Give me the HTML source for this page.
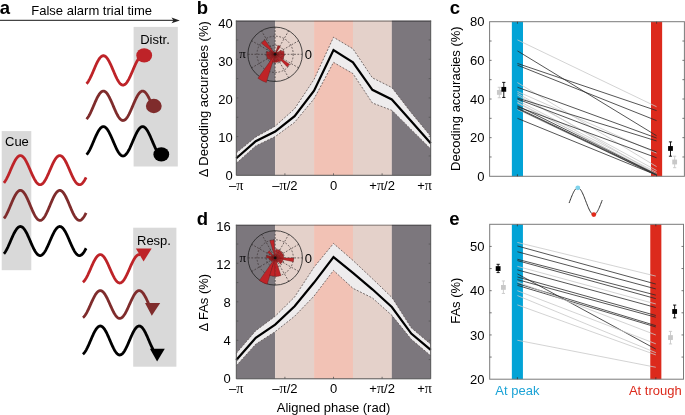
<!DOCTYPE html>
<html><head><meta charset="utf-8"><style>html,body{margin:0;padding:0;background:#fff;width:685px;height:415px;overflow:hidden}svg{display:block;will-change:transform}</style></head>
<body><svg width="685" height="415" viewBox="0 0 685 415">
<rect width="685" height="415" fill="#fff"/>
<rect x="1.7" y="131.1" width="29.6" height="139.1" fill="#d9d9d9"/>
<rect x="133.6" y="26.9" width="44.2" height="139.6" fill="#d9d9d9"/>
<rect x="133.2" y="227.7" width="43.2" height="139" fill="#d9d9d9"/>
<line x1="0" y1="20.4" x2="174" y2="20.4" stroke="#444" stroke-width="1.1"/>
<path d="M179.8,20.4 L171.5,17.6 L173.5,20.4 L171.5,23.2 Z" fill="#222"/>
<text x="31.3" y="14.6" font-size="13" text-anchor="start" font-weight="normal" fill="#000" font-family='"Liberation Sans", sans-serif' >False alarm trial time</text>
<text x="-0.2" y="14" font-size="18.5" text-anchor="start" font-weight="bold" fill="#000" font-family='"Liberation Sans", sans-serif' >a</text>
<text x="5" y="146" font-size="13" text-anchor="start" font-weight="normal" fill="#000" font-family='"Liberation Sans", sans-serif' >Cue</text>
<text x="140.2" y="44" font-size="13" text-anchor="start" font-weight="normal" fill="#000" font-family='"Liberation Sans", sans-serif' >Distr.</text>
<text x="137" y="244.7" font-size="13" text-anchor="start" font-weight="normal" fill="#000" font-family='"Liberation Sans", sans-serif' >Resp.</text>
<path d="M3.9,182.85 L4.4,182.24 L4.9,181.56 L5.39,180.81 L5.89,179.99 L6.39,179.11 L6.89,178.17 L7.39,177.18 L7.89,176.15 L8.38,175.08 L8.88,173.98 L9.38,172.85 L9.88,171.71 L10.38,170.55 L10.87,169.4 L11.37,168.25 L11.87,167.11 L12.37,165.99 L12.87,164.89 L13.37,163.83 L13.86,162.81 L14.36,161.84 L14.86,160.92 L15.36,160.06 L15.86,159.26 L16.35,158.52 L16.85,157.87 L17.35,157.29 L17.85,156.79 L18.35,156.37 L18.85,156.04 L19.34,155.81 L19.84,155.66 L20.34,155.6 L20.84,155.64 L21.34,155.76 L21.83,155.98 L22.33,156.29 L22.83,156.68 L23.33,157.16 L23.83,157.72 L24.33,158.36 L24.82,159.07 L25.32,159.86 L25.82,160.7 L26.32,161.61 L26.82,162.58 L27.31,163.58 L27.81,164.64 L28.31,165.72 L28.81,166.84 L29.31,167.97 L29.81,169.12 L30.3,170.27 L30.8,171.43 L31.3,172.57 L31.8,173.71 L32.3,174.81 L32.79,175.89 L33.29,176.94 L33.79,177.94 L34.29,178.89 L34.79,179.78 L35.29,180.62 L35.78,181.39 L36.28,182.09 L36.78,182.71 L37.28,183.25 L37.78,183.71 L38.27,184.09 L38.77,184.38 L39.27,184.57 L39.77,184.68 L40.27,184.69 L40.77,184.62 L41.26,184.45 L41.76,184.19 L42.26,183.85 L42.76,183.41 L43.26,182.9 L43.75,182.3 L44.25,181.62 L44.75,180.88 L45.25,180.06 L45.75,179.19 L46.25,178.25 L46.74,177.27 L47.24,176.24 L47.74,175.17 L48.24,174.07 L48.74,172.95 L49.23,171.81 L49.73,170.65 L50.23,169.5 L50.73,168.35 L51.23,167.21 L51.73,166.09 L52.22,164.99 L52.72,163.93 L53.22,162.9 L53.72,161.92 L54.22,161 L54.71,160.13 L55.21,159.32 L55.71,158.59 L56.21,157.92 L56.71,157.33 L57.21,156.83 L57.7,156.41 L58.2,156.07 L58.7,155.82 L59.2,155.67 L59.7,155.6 L60.19,155.63 L60.69,155.75 L61.19,155.96 L61.69,156.26 L62.19,156.64 L62.69,157.11 L63.18,157.67 L63.68,158.3 L64.18,159.01 L64.68,159.79 L65.18,160.63 L65.67,161.53 L66.17,162.49 L66.67,163.49 L67.17,164.54 L67.67,165.63 L68.17,166.74 L68.66,167.87 L69.16,169.02 L69.66,170.17 L70.16,171.33 L70.66,172.48 L71.15,173.61 L71.65,174.72 L72.15,175.8 L72.65,176.85 L73.15,177.85 L73.65,178.81 L74.14,179.71 L74.64,180.55 L75.14,181.32 L75.64,182.03 L76.14,182.66 L76.63,183.21 L77.13,183.68 L77.63,184.06 L78.13,184.35 L78.63,184.56 L79.13,184.67 L79.62,184.7 L80.12,184.63 L80.62,184.47 L81.12,184.22 L81.62,183.88 L82.11,183.45 L82.61,182.94 L83.11,182.35 L83.61,181.69 L84.11,180.95 L84.61,180.14 L85.1,179.27 L85.6,178.34 L86.1,177.36" fill="none" stroke="#be2328" stroke-width="2.8" stroke-linejoin="round" stroke-linecap="butt"/>
<path d="M3.9,218.49 L4.4,217.87 L4.9,217.16 L5.39,216.39 L5.89,215.54 L6.39,214.64 L6.89,213.67 L7.39,212.65 L7.89,211.58 L8.38,210.48 L8.88,209.34 L9.38,208.18 L9.88,207 L10.38,205.82 L10.87,204.62 L11.37,203.44 L11.87,202.26 L12.37,201.11 L12.87,199.98 L13.37,198.89 L13.86,197.84 L14.36,196.83 L14.86,195.88 L15.36,194.99 L15.86,194.17 L16.35,193.41 L16.85,192.74 L17.35,192.14 L17.85,191.62 L18.35,191.2 L18.85,190.86 L19.34,190.61 L19.84,190.46 L20.34,190.4 L20.84,190.44 L21.34,190.57 L21.83,190.79 L22.33,191.11 L22.83,191.51 L23.33,192.01 L23.83,192.59 L24.33,193.24 L24.82,193.98 L25.32,194.79 L25.82,195.66 L26.32,196.6 L26.82,197.59 L27.31,198.63 L27.81,199.72 L28.31,200.84 L28.81,201.98 L29.31,203.15 L29.81,204.34 L30.3,205.53 L30.8,206.72 L31.3,207.9 L31.8,209.07 L32.3,210.21 L32.79,211.32 L33.29,212.4 L33.79,213.43 L34.29,214.41 L34.79,215.33 L35.29,216.19 L35.78,216.98 L36.28,217.7 L36.78,218.35 L37.28,218.91 L37.78,219.38 L38.27,219.77 L38.77,220.07 L39.27,220.27 L39.77,220.38 L40.27,220.39 L40.77,220.32 L41.26,220.14 L41.76,219.88 L42.26,219.52 L42.76,219.07 L43.26,218.54 L43.75,217.92 L44.25,217.23 L44.75,216.46 L45.25,215.62 L45.75,214.72 L46.25,213.76 L46.74,212.74 L47.24,211.68 L47.74,210.58 L48.24,209.44 L48.74,208.29 L49.23,207.11 L49.73,205.92 L50.23,204.73 L50.73,203.54 L51.23,202.37 L51.73,201.21 L52.22,200.08 L52.72,198.98 L53.22,197.93 L53.72,196.92 L54.22,195.96 L54.71,195.07 L55.21,194.24 L55.71,193.48 L56.21,192.79 L56.71,192.19 L57.21,191.67 L57.7,191.23 L58.2,190.88 L58.7,190.63 L59.2,190.47 L59.7,190.4 L60.19,190.43 L60.69,190.55 L61.19,190.77 L61.69,191.08 L62.19,191.47 L62.69,191.96 L63.18,192.53 L63.68,193.18 L64.18,193.91 L64.68,194.71 L65.18,195.58 L65.67,196.51 L66.17,197.5 L66.67,198.54 L67.17,199.62 L67.67,200.74 L68.17,201.88 L68.66,203.05 L69.16,204.23 L69.66,205.42 L70.16,206.61 L70.66,207.8 L71.15,208.96 L71.65,210.11 L72.15,211.23 L72.65,212.3 L73.15,213.34 L73.65,214.32 L74.14,215.25 L74.64,216.12 L75.14,216.92 L75.64,217.64 L76.14,218.29 L76.63,218.86 L77.13,219.34 L77.63,219.74 L78.13,220.04 L78.63,220.25 L79.13,220.37 L79.62,220.4 L80.12,220.33 L80.62,220.16 L81.12,219.9 L81.62,219.55 L82.11,219.11 L82.61,218.59 L83.11,217.98 L83.61,217.29 L84.11,216.53 L84.61,215.7 L85.1,214.8 L85.6,213.84 L86.1,212.83" fill="none" stroke="#7f2c2c" stroke-width="2.8" stroke-linejoin="round" stroke-linecap="butt"/>
<path d="M3.9,253.75 L4.4,253.14 L4.9,252.46 L5.39,251.71 L5.89,250.89 L6.39,250.01 L6.89,249.07 L7.39,248.08 L7.89,247.05 L8.38,245.98 L8.88,244.88 L9.38,243.75 L9.88,242.61 L10.38,241.45 L10.87,240.3 L11.37,239.15 L11.87,238.01 L12.37,236.89 L12.87,235.79 L13.37,234.73 L13.86,233.71 L14.36,232.74 L14.86,231.82 L15.36,230.96 L15.86,230.16 L16.35,229.42 L16.85,228.77 L17.35,228.19 L17.85,227.69 L18.35,227.27 L18.85,226.94 L19.34,226.71 L19.84,226.56 L20.34,226.5 L20.84,226.54 L21.34,226.66 L21.83,226.88 L22.33,227.19 L22.83,227.58 L23.33,228.06 L23.83,228.62 L24.33,229.26 L24.82,229.97 L25.32,230.76 L25.82,231.6 L26.32,232.51 L26.82,233.48 L27.31,234.48 L27.81,235.54 L28.31,236.62 L28.81,237.74 L29.31,238.87 L29.81,240.02 L30.3,241.17 L30.8,242.33 L31.3,243.47 L31.8,244.61 L32.3,245.71 L32.79,246.79 L33.29,247.84 L33.79,248.84 L34.29,249.79 L34.79,250.68 L35.29,251.52 L35.78,252.29 L36.28,252.99 L36.78,253.61 L37.28,254.15 L37.78,254.61 L38.27,254.99 L38.77,255.28 L39.27,255.47 L39.77,255.58 L40.27,255.59 L40.77,255.52 L41.26,255.35 L41.76,255.09 L42.26,254.75 L42.76,254.31 L43.26,253.8 L43.75,253.2 L44.25,252.52 L44.75,251.78 L45.25,250.96 L45.75,250.09 L46.25,249.15 L46.74,248.17 L47.24,247.14 L47.74,246.07 L48.24,244.97 L48.74,243.85 L49.23,242.71 L49.73,241.55 L50.23,240.4 L50.73,239.25 L51.23,238.11 L51.73,236.99 L52.22,235.89 L52.72,234.83 L53.22,233.8 L53.72,232.82 L54.22,231.9 L54.71,231.03 L55.21,230.22 L55.71,229.49 L56.21,228.82 L56.71,228.23 L57.21,227.73 L57.7,227.31 L58.2,226.97 L58.7,226.72 L59.2,226.57 L59.7,226.5 L60.19,226.53 L60.69,226.65 L61.19,226.86 L61.69,227.16 L62.19,227.54 L62.69,228.01 L63.18,228.57 L63.68,229.2 L64.18,229.91 L64.68,230.69 L65.18,231.53 L65.67,232.43 L66.17,233.39 L66.67,234.39 L67.17,235.44 L67.67,236.53 L68.17,237.64 L68.66,238.77 L69.16,239.92 L69.66,241.07 L70.16,242.23 L70.66,243.38 L71.15,244.51 L71.65,245.62 L72.15,246.7 L72.65,247.75 L73.15,248.75 L73.65,249.71 L74.14,250.61 L74.64,251.45 L75.14,252.22 L75.64,252.93 L76.14,253.56 L76.63,254.11 L77.13,254.58 L77.63,254.96 L78.13,255.25 L78.63,255.46 L79.13,255.57 L79.62,255.6 L80.12,255.53 L80.62,255.37 L81.12,255.12 L81.62,254.78 L82.11,254.35 L82.61,253.84 L83.11,253.25 L83.61,252.59 L84.11,251.85 L84.61,251.04 L85.1,250.17 L85.6,249.24 L86.1,248.26" fill="none" stroke="#000" stroke-width="2.8" stroke-linejoin="round" stroke-linecap="butt"/>
<path d="M86.5,83.74 L87,83.21 L87.49,82.6 L87.99,81.91 L88.49,81.15 L88.98,80.31 L89.48,79.42 L89.98,78.47 L90.47,77.47 L90.97,76.42 L91.46,75.33 L91.96,74.22 L92.46,73.08 L92.95,71.92 L93.45,70.75 L93.95,69.58 L94.44,68.42 L94.94,67.27 L95.44,66.14 L95.93,65.03 L96.43,63.96 L96.93,62.93 L97.42,61.95 L97.92,61.02 L98.42,60.15 L98.91,59.34 L99.41,58.61 L99.9,57.95 L100.4,57.37 L100.9,56.87 L101.39,56.45 L101.89,56.13 L102.39,55.89 L102.88,55.75 L103.38,55.7 L103.88,55.74 L104.37,55.88 L104.87,56.11 L105.37,56.42 L105.86,56.83 L106.36,57.32 L106.85,57.9 L107.35,58.55 L107.85,59.28 L108.34,60.08 L108.84,60.94 L109.34,61.87 L109.83,62.85 L110.33,63.87 L110.83,64.94 L111.32,66.04 L111.82,67.17 L112.32,68.32 L112.81,69.49 L113.31,70.66 L113.81,71.82 L114.3,72.98 L114.8,74.12 L115.29,75.24 L115.79,76.33 L116.29,77.38 L116.78,78.39 L117.28,79.34 L117.78,80.24 L118.27,81.08 L118.77,81.85 L119.27,82.55 L119.76,83.17 L120.26,83.7 L120.76,84.16 L121.25,84.53 L121.75,84.81 L122.25,84.99 L122.74,85.09 L123.24,85.09 L123.73,85 L124.23,84.81 L124.73,84.54 L125.22,84.18 L125.72,83.72 L126.22,83.19 L126.71,82.57 L127.21,81.88 L127.71,81.11 L128.2,80.28 L128.7,79.38 L129.2,78.43 L129.69,77.42 L130.19,76.38 L130.68,75.29 L131.18,74.17 L131.68,73.03 L132.17,71.87 L132.67,70.7 L133.17,69.54 L133.66,68.37 L134.16,67.22 L134.66,66.09 L135.15,64.99 L135.65,63.92 L136.15,62.89 L136.64,61.91 L137.14,60.98 L137.64,60.11 L138.13,59.31 L138.63,58.58 L139.12,57.92 L139.62,57.34 L140.12,56.85 L140.61,56.44 L141.11,56.12 L141.61,55.89 L142.1,55.75 L142.6,55.7" fill="none" stroke="#be2328" stroke-width="2.8" stroke-linejoin="round" stroke-linecap="butt"/>
<ellipse cx="144.2" cy="55.4" rx="7.9" ry="7.2" fill="#be2328"/>
<path d="M86.5,119.14 L87,118.61 L87.5,117.99 L88,117.3 L88.5,116.53 L89,115.69 L89.5,114.79 L89.99,113.83 L90.49,112.82 L90.99,111.77 L91.49,110.67 L91.99,109.55 L92.49,108.4 L92.99,107.23 L93.49,106.06 L93.99,104.88 L94.49,103.72 L94.99,102.56 L95.49,101.42 L95.99,100.32 L96.48,99.24 L96.98,98.21 L97.48,97.23 L97.98,96.3 L98.48,95.44 L98.98,94.64 L99.48,93.91 L99.98,93.25 L100.48,92.68 L100.98,92.19 L101.48,91.79 L101.98,91.48 L102.48,91.26 L102.97,91.13 L103.47,91.1 L103.97,91.16 L104.47,91.32 L104.97,91.56 L105.47,91.9 L105.97,92.33 L106.47,92.84 L106.97,93.44 L107.47,94.12 L107.97,94.87 L108.47,95.69 L108.97,96.57 L109.47,97.52 L109.96,98.51 L110.46,99.56 L110.96,100.64 L111.46,101.76 L111.96,102.9 L112.46,104.06 L112.96,105.23 L113.46,106.41 L113.96,107.58 L114.46,108.74 L114.96,109.88 L115.46,111 L115.96,112.08 L116.45,113.13 L116.95,114.12 L117.45,115.06 L117.95,115.95 L118.45,116.76 L118.95,117.51 L119.45,118.18 L119.95,118.78 L120.45,119.29 L120.95,119.71 L121.45,120.05 L121.95,120.29 L122.45,120.44 L122.94,120.5 L123.44,120.46 L123.94,120.33 L124.44,120.11 L124.94,119.79 L125.44,119.39 L125.94,118.9 L126.44,118.32 L126.94,117.67 L127.44,116.94 L127.94,116.13 L128.44,115.26 L128.94,114.33 L129.43,113.35 L129.93,112.32 L130.43,111.24 L130.93,110.13 L131.43,109 L131.93,107.84 L132.43,106.67 L132.93,105.49 L133.43,104.32 L133.93,103.16 L134.43,102.01 L134.93,100.89 L135.43,99.79 L135.93,98.74 L136.42,97.73 L136.92,96.78 L137.42,95.88 L137.92,95.04 L138.42,94.28 L138.92,93.58 L139.42,92.97 L139.92,92.44 L140.42,91.99 L140.92,91.63 L141.42,91.36 L141.92,91.19 L142.42,91.11 L142.91,91.12 L143.41,91.22 L143.91,91.42 L144.41,91.72 L144.91,92.1 L145.41,92.57 L145.91,93.12 L146.41,93.76 L146.91,94.47 L147.41,95.25 L147.91,96.1 L148.41,97.02 L148.91,97.99 L149.4,99.01 L149.9,100.07 L150.4,101.17 L150.9,102.3 L151.4,103.46 L151.9,104.62 L152.4,105.8" fill="none" stroke="#7f2c2c" stroke-width="2.8" stroke-linejoin="round" stroke-linecap="butt"/>
<ellipse cx="153.8" cy="106" rx="7.9" ry="7.2" fill="#7f2c2c"/>
<path d="M86.5,154.64 L87,154.11 L87.49,153.5 L87.99,152.81 L88.49,152.04 L88.98,151.21 L89.48,150.32 L89.98,149.37 L90.47,148.36 L90.97,147.32 L91.47,146.23 L91.96,145.11 L92.46,143.97 L92.96,142.81 L93.45,141.65 L93.95,140.48 L94.45,139.31 L94.94,138.16 L95.44,137.03 L95.94,135.92 L96.43,134.85 L96.93,133.82 L97.43,132.84 L97.92,131.91 L98.42,131.04 L98.92,130.24 L99.41,129.5 L99.91,128.84 L100.41,128.26 L100.9,127.76 L101.4,127.35 L101.9,127.03 L102.39,126.79 L102.89,126.65 L103.39,126.6 L103.88,126.64 L104.38,126.78 L104.88,127.01 L105.37,127.33 L105.87,127.74 L106.37,128.23 L106.86,128.81 L107.36,129.46 L107.86,130.19 L108.35,130.99 L108.85,131.86 L109.35,132.79 L109.84,133.76 L110.34,134.79 L110.84,135.86 L111.33,136.96 L111.83,138.1 L112.33,139.25 L112.82,140.41 L113.32,141.58 L113.82,142.75 L114.31,143.91 L114.81,145.05 L115.31,146.17 L115.8,147.25 L116.3,148.3 L116.8,149.31 L117.29,150.26 L117.79,151.16 L118.29,152 L118.78,152.77 L119.28,153.46 L119.78,154.08 L120.27,154.62 L120.77,155.07 L121.27,155.44 L121.76,155.71 L122.26,155.9 L122.76,155.99 L123.25,155.99 L123.75,155.89 L124.24,155.71 L124.74,155.43 L125.24,155.06 L125.73,154.61 L126.23,154.07 L126.73,153.45 L127.22,152.76 L127.72,151.99 L128.22,151.15 L128.71,150.25 L129.21,149.3 L129.71,148.29 L130.2,147.24 L130.7,146.15 L131.2,145.03 L131.69,143.89 L132.19,142.73 L132.69,141.56 L133.18,140.39 L133.68,139.23 L134.18,138.08 L134.67,136.95 L135.17,135.85 L135.67,134.78 L136.16,133.75 L136.66,132.77 L137.16,131.85 L137.65,130.98 L138.15,130.18 L138.65,129.45 L139.14,128.8 L139.64,128.22 L140.14,127.73 L140.63,127.32 L141.13,127.01 L141.63,126.78 L142.12,126.64 L142.62,126.6 L143.12,126.65 L143.61,126.79 L144.11,127.03 L144.61,127.35 L145.1,127.77 L145.6,128.27 L146.1,128.85 L146.59,129.51 L147.09,130.25 L147.59,131.05 L148.08,131.92 L148.58,132.85 L149.08,133.84 L149.57,134.87 L150.07,135.94 L150.57,137.04 L151.06,138.18 L151.56,139.33 L152.06,140.49 L152.55,141.66 L153.05,142.83 L153.55,143.99 L154.04,145.13 L154.54,146.24 L155.04,147.33 L155.53,148.38 L156.03,149.38 L156.53,150.33 L157.02,151.22 L157.52,152.05 L158.02,152.82 L158.51,153.51 L159.01,154.12 L159.51,154.65 L160,155.1 L160.5,155.46" fill="none" stroke="#000" stroke-width="2.8" stroke-linejoin="round" stroke-linecap="butt"/>
<ellipse cx="161.3" cy="154.4" rx="7.9" ry="7.2" fill="#000"/>
<path d="M82.9,282.23 L83.4,281.82 L83.89,281.32 L84.39,280.74 L84.89,280.09 L85.38,279.36 L85.88,278.57 L86.38,277.71 L86.87,276.8 L87.37,275.83 L87.87,274.82 L88.36,273.77 L88.86,272.69 L89.36,271.58 L89.85,270.46 L90.35,269.32 L90.84,268.18 L91.34,267.05 L91.84,265.92 L92.33,264.82 L92.83,263.74 L93.33,262.69 L93.82,261.69 L94.32,260.72 L94.82,259.81 L95.31,258.96 L95.81,258.17 L96.31,257.45 L96.8,256.81 L97.3,256.23 L97.8,255.75 L98.29,255.34 L98.79,255.02 L99.29,254.79 L99.78,254.65 L100.28,254.6 L100.78,254.64 L101.27,254.77 L101.77,255 L102.27,255.31 L102.76,255.71 L103.26,256.19 L103.76,256.75 L104.25,257.4 L104.75,258.11 L105.24,258.89 L105.74,259.74 L106.24,260.65 L106.73,261.6 L107.23,262.61 L107.73,263.65 L108.22,264.73 L108.72,265.83 L109.22,266.95 L109.71,268.09 L110.21,269.23 L110.71,270.36 L111.2,271.49 L111.7,272.6 L112.2,273.68 L112.69,274.73 L113.19,275.75 L113.69,276.72 L114.18,277.64 L114.68,278.5 L115.18,279.3 L115.67,280.03 L116.17,280.69 L116.67,281.27 L117.16,281.78 L117.66,282.2 L118.16,282.53 L118.65,282.78 L119.15,282.93 L119.64,283 L120.14,282.97 L120.64,282.85 L121.13,282.65 L121.63,282.35 L122.13,281.97 L122.62,281.5 L123.12,280.95 L123.62,280.32 L124.11,279.62 L124.61,278.84 L125.11,278.01 L125.6,277.11 L126.1,276.16 L126.6,275.17 L127.09,274.13 L127.59,273.06 L128.09,271.96 L128.58,270.84 L129.08,269.71 L129.58,268.57 L130.07,267.43 L130.57,266.3 L131.07,265.19 L131.56,264.1 L132.06,263.04 L132.56,262.02 L133.05,261.05 L133.55,260.12 L134.04,259.24 L134.54,258.43 L135.04,257.69 L135.53,257.02 L136.03,256.42 L136.53,255.9 L137.02,255.47 L137.52,255.12 L138.02,254.86 L138.51,254.69 L139.01,254.61 L139.51,254.62 L140,254.72 L140.5,254.91" fill="none" stroke="#be2328" stroke-width="2.8" stroke-linejoin="round" stroke-linecap="butt"/>
<path d="M135.9,248.5 L151.7,248.5 L143.6,261.4 Z" fill="#be2328"/>
<path d="M82.9,317.64 L83.4,317.24 L83.89,316.75 L84.39,316.19 L84.89,315.55 L85.39,314.83 L85.88,314.06 L86.38,313.22 L86.88,312.32 L87.37,311.37 L87.87,310.38 L88.37,309.35 L88.86,308.29 L89.36,307.21 L89.86,306.11 L90.36,304.99 L90.85,303.88 L91.35,302.77 L91.85,301.67 L92.34,300.58 L92.84,299.53 L93.34,298.5 L93.83,297.52 L94.33,296.57 L94.83,295.68 L95.33,294.85 L95.82,294.08 L96.32,293.38 L96.82,292.74 L97.31,292.19 L97.81,291.71 L98.31,291.31 L98.8,291 L99.3,290.78 L99.8,290.65 L100.3,290.6 L100.79,290.64 L101.29,290.78 L101.79,291 L102.28,291.31 L102.78,291.7 L103.28,292.18 L103.77,292.73 L104.27,293.36 L104.77,294.07 L105.27,294.84 L105.76,295.67 L106.26,296.56 L106.76,297.5 L107.25,298.48 L107.75,299.51 L108.25,300.56 L108.74,301.65 L109.24,302.75 L109.74,303.86 L110.24,304.97 L110.73,306.09 L111.23,307.19 L111.73,308.27 L112.22,309.33 L112.72,310.36 L113.22,311.35 L113.71,312.3 L114.21,313.2 L114.71,314.04 L115.21,314.82 L115.7,315.53 L116.2,316.18 L116.7,316.74 L117.19,317.23 L117.69,317.64 L118.19,317.96 L118.69,318.19 L119.18,318.34 L119.68,318.4 L120.18,318.37 L120.67,318.25 L121.17,318.04 L121.67,317.74 L122.16,317.36 L122.66,316.89 L123.16,316.35 L123.66,315.73 L124.15,315.03 L124.65,314.27 L125.15,313.45 L125.64,312.56 L126.14,311.63 L126.64,310.65 L127.13,309.63 L127.63,308.58 L128.13,307.5 L128.63,306.4 L129.12,305.29 L129.62,304.18 L130.12,303.06 L130.61,301.96 L131.11,300.87 L131.61,299.81 L132.1,298.77 L132.6,297.78 L133.1,296.82 L133.6,295.92 L134.09,295.07 L134.59,294.28 L135.09,293.56 L135.58,292.9 L136.08,292.33 L136.58,291.83 L137.07,291.41 L137.57,291.08 L138.07,290.83 L138.57,290.67 L139.06,290.6 L139.56,290.62 L140.06,290.73 L140.55,290.93 L141.05,291.22 L141.55,291.59 L142.04,292.04 L142.54,292.58 L143.04,293.19 L143.54,293.87 L144.03,294.62 L144.53,295.44 L145.03,296.32 L145.52,297.24 L146.02,298.22 L146.52,299.23 L147.01,300.28 L147.51,301.35 L148.01,302.45 L148.51,303.56 L149,304.68 L149.5,305.79" fill="none" stroke="#7f2c2c" stroke-width="2.8" stroke-linejoin="round" stroke-linecap="butt"/>
<path d="M145,302.9 L160.2,302.9 L151.8,315.7 Z" fill="#7f2c2c"/>
<path d="M82.9,354.21 L83.4,353.79 L83.89,353.28 L84.39,352.69 L84.89,352.02 L85.39,351.28 L85.88,350.47 L86.38,349.59 L86.88,348.65 L87.38,347.66 L87.87,346.63 L88.37,345.56 L88.87,344.45 L89.36,343.32 L89.86,342.17 L90.36,341.01 L90.86,339.84 L91.35,338.68 L91.85,337.53 L92.35,336.4 L92.85,335.3 L93.34,334.23 L93.84,333.2 L94.34,332.22 L94.83,331.29 L95.33,330.42 L95.83,329.62 L96.33,328.89 L96.82,328.23 L97.32,327.65 L97.82,327.15 L98.32,326.74 L98.81,326.42 L99.31,326.19 L99.81,326.05 L100.3,326 L100.8,326.05 L101.3,326.19 L101.8,326.42 L102.29,326.74 L102.79,327.16 L103.29,327.66 L103.78,328.24 L104.28,328.9 L104.78,329.63 L105.28,330.44 L105.77,331.31 L106.27,332.24 L106.77,333.22 L107.27,334.25 L107.76,335.32 L108.26,336.42 L108.76,337.55 L109.25,338.7 L109.75,339.86 L110.25,341.03 L110.75,342.19 L111.24,343.34 L111.74,344.47 L112.24,345.57 L112.74,346.65 L113.23,347.68 L113.73,348.67 L114.23,349.6 L114.72,350.48 L115.22,351.29 L115.72,352.03 L116.22,352.7 L116.71,353.29 L117.21,353.8 L117.71,354.22 L118.21,354.55 L118.7,354.79 L119.2,354.94 L119.7,355 L120.19,354.96 L120.69,354.83 L121.19,354.61 L121.69,354.3 L122.18,353.89 L122.68,353.41 L123.18,352.83 L123.68,352.18 L124.17,351.46 L124.67,350.66 L125.17,349.79 L125.66,348.87 L126.16,347.89 L126.66,346.87 L127.16,345.8 L127.65,344.7 L128.15,343.58 L128.65,342.43 L129.15,341.27 L129.64,340.11 L130.14,338.95 L130.64,337.79 L131.13,336.66 L131.63,335.55 L132.13,334.47 L132.63,333.43 L133.12,332.44 L133.62,331.5 L134.12,330.62 L134.62,329.8 L135.11,329.05 L135.61,328.37 L136.11,327.77 L136.6,327.26 L137.1,326.83 L137.6,326.48 L138.1,326.23 L138.59,326.07 L139.09,326 L139.59,326.03 L140.08,326.15 L140.58,326.36 L141.08,326.66 L141.58,327.06 L142.07,327.53 L142.57,328.1 L143.07,328.74 L143.57,329.46 L144.06,330.25 L144.56,331.1 L145.06,332.02 L145.55,332.99 L146.05,334.01 L146.55,335.07 L147.05,336.17 L147.54,337.29 L148.04,338.44 L148.54,339.6 L149.04,340.76 L149.53,341.92 L150.03,343.07 L150.53,344.21 L151.02,345.32 L151.52,346.41 L152.02,347.45 L152.52,348.45 L153.01,349.39 L153.51,350.28 L154.01,351.11 L154.51,351.87 L155,352.56 L155.5,353.16" fill="none" stroke="#000" stroke-width="2.8" stroke-linejoin="round" stroke-linecap="butt"/>
<path d="M149.9,348.7 L164.8,348.7 L157.1,361.4 Z" fill="#000"/>
<rect x="236.3" y="20.6" width="38.93" height="154.7" fill="#7c777d"/>
<rect x="275.18" y="20.6" width="38.93" height="154.7" fill="#e4d1ca"/>
<rect x="314.06" y="20.6" width="38.93" height="154.7" fill="#f2c2b5"/>
<rect x="352.94" y="20.6" width="38.93" height="154.7" fill="#e4d1ca"/>
<rect x="391.82" y="20.6" width="38.93" height="154.7" fill="#7c777d"/>
<path d="M236.3,152.87 L255.74,137.01 L275.18,126.18 L294.62,108.78 L314.06,79.39 L333.5,37.23 L352.94,48.83 L372.38,77.84 L391.82,87.51 L411.26,112.65 L430.7,136.24 L430.7,149 L411.26,129.66 L391.82,110.33 L372.38,102.98 L352.94,73.58 L333.5,62.37 L314.06,98.72 L294.62,122.32 L275.18,136.62 L255.74,145.91 L236.3,163.31Z" fill="#eeeced"/>
<path d="M236.3,152.87 L255.74,137.01 L275.18,126.18 L294.62,108.78 L314.06,79.39 L333.5,37.23 L352.94,48.83 L372.38,77.84 L391.82,87.51 L411.26,112.65 L430.7,136.24" fill="none" stroke="#5a5050" stroke-width="0.8" stroke-dasharray="2,1.5"/>
<path d="M236.3,163.31 L255.74,145.91 L275.18,136.62 L294.62,122.32 L314.06,98.72 L333.5,62.37 L352.94,73.58 L372.38,102.98 L391.82,110.33 L411.26,129.66 L430.7,149" fill="none" stroke="#5a5050" stroke-width="0.8" stroke-dasharray="2,1.5"/>
<path d="M236.3,158.28 L255.74,141.27 L275.18,131.6 L294.62,116.13 L314.06,90.6 L333.5,49.99 L352.94,62.37 L372.38,89.83 L391.82,99.5 L411.26,121.16 L430.7,143.2" fill="none" stroke="#000" stroke-width="2.2" stroke-linejoin="miter"/>
<circle cx="275.1" cy="54.3" r="9.07" fill="none" stroke="#3a3030" stroke-width="0.7" stroke-dasharray="1.8,1.5"/>
<circle cx="275.1" cy="54.3" r="18.13" fill="none" stroke="#3a3030" stroke-width="0.7" stroke-dasharray="1.8,1.5"/>
<line x1="247.9" y1="54.3" x2="302.3" y2="54.3" stroke="#3a3030" stroke-width="0.7" stroke-dasharray="1.8,1.5"/>
<line x1="251.54" y1="67.9" x2="298.66" y2="40.7" stroke="#3a3030" stroke-width="0.7" stroke-dasharray="1.8,1.5"/>
<line x1="261.5" y1="77.86" x2="288.7" y2="30.74" stroke="#3a3030" stroke-width="0.7" stroke-dasharray="1.8,1.5"/>
<line x1="275.1" y1="81.5" x2="275.1" y2="27.1" stroke="#3a3030" stroke-width="0.7" stroke-dasharray="1.8,1.5"/>
<line x1="288.7" y1="77.86" x2="261.5" y2="30.74" stroke="#3a3030" stroke-width="0.7" stroke-dasharray="1.8,1.5"/>
<line x1="298.66" y1="67.9" x2="251.54" y2="40.7" stroke="#3a3030" stroke-width="0.7" stroke-dasharray="1.8,1.5"/>
<circle cx="275.1" cy="54.3" r="27.2" fill="none" stroke="#222" stroke-width="0.8"/>
<path d="M275.1,54.3 L282.38,59.59 A9,9 0 0 0 283.32,57.96 Z" fill="#c02327" stroke="#5a1010" stroke-width="0.35" stroke-linejoin="round"/>
<path d="M275.1,54.3 L283.32,57.96 A9,9 0 0 0 283.9,56.17 Z" fill="#c02327" stroke="#5a1010" stroke-width="0.35" stroke-linejoin="round"/>
<path d="M275.1,54.3 L283.9,56.17 A9,9 0 0 0 284.1,54.3 Z" fill="#c02327" stroke="#5a1010" stroke-width="0.35" stroke-linejoin="round"/>
<path d="M275.1,54.3 L284.1,54.3 A9,9 0 0 0 283.9,52.43 Z" fill="#c02327" stroke="#5a1010" stroke-width="0.35" stroke-linejoin="round"/>
<path d="M275.1,54.3 L283.9,52.43 A9,9 0 0 0 283.32,50.64 Z" fill="#c02327" stroke="#5a1010" stroke-width="0.35" stroke-linejoin="round"/>
<path d="M275.1,54.3 L281.49,51.45 A7,7 0 0 0 280.76,50.19 Z" fill="#c02327" stroke="#5a1010" stroke-width="0.35" stroke-linejoin="round"/>
<path d="M275.1,54.3 L277.12,52.83 A2.5,2.5 0 0 0 276.87,52.53 Z" fill="#c02327" stroke="#5a1010" stroke-width="0.35" stroke-linejoin="round"/>
<path d="M275.1,54.3 L276.87,52.53 A2.5,2.5 0 0 0 276.57,52.28 Z" fill="#c02327" stroke="#5a1010" stroke-width="0.35" stroke-linejoin="round"/>
<path d="M275.1,54.3 L280.31,46.72 A9.2,9.2 0 0 0 279.11,46.02 Z" fill="#c02327" stroke="#5a1010" stroke-width="0.35" stroke-linejoin="round"/>
<path d="M275.1,54.3 L279.11,46.02 A9.2,9.2 0 0 0 277.82,45.51 Z" fill="#c02327" stroke="#5a1010" stroke-width="0.35" stroke-linejoin="round"/>
<path d="M275.1,54.3 L275.69,52.39 A2,2 0 0 0 275.33,52.31 Z" fill="#c02327" stroke="#5a1010" stroke-width="0.35" stroke-linejoin="round"/>
<path d="M275.1,54.3 L275.33,52.31 A2,2 0 0 0 274.96,52.31 Z" fill="#c02327" stroke="#5a1010" stroke-width="0.35" stroke-linejoin="round"/>
<path d="M275.1,54.3 L274.96,52.31 A2,2 0 0 0 274.59,52.37 Z" fill="#c02327" stroke="#5a1010" stroke-width="0.35" stroke-linejoin="round"/>
<path d="M275.1,54.3 L274.59,52.37 A2,2 0 0 0 274.24,52.49 Z" fill="#c02327" stroke="#5a1010" stroke-width="0.35" stroke-linejoin="round"/>
<path d="M275.1,54.3 L274.24,52.49 A2,2 0 0 0 273.92,52.68 Z" fill="#c02327" stroke="#5a1010" stroke-width="0.35" stroke-linejoin="round"/>
<path d="M275.1,54.3 L264.85,39.99 A17.6,17.6 0 0 0 261.46,43.18 Z" fill="#c02327" stroke="#5a1010" stroke-width="0.35" stroke-linejoin="round"/>
<path d="M275.1,54.3 L270.45,50.51 A6,6 0 0 0 269.88,51.34 Z" fill="#c02327" stroke="#5a1010" stroke-width="0.35" stroke-linejoin="round"/>
<path d="M275.1,54.3 L269.88,51.34 A6,6 0 0 0 269.46,52.25 Z" fill="#c02327" stroke="#5a1010" stroke-width="0.35" stroke-linejoin="round"/>
<path d="M275.1,54.3 L267.11,51.39 A8.5,8.5 0 0 0 266.7,52.97 Z" fill="#c02327" stroke="#5a1010" stroke-width="0.35" stroke-linejoin="round"/>
<path d="M275.1,54.3 L266.7,52.97 A8.5,8.5 0 0 0 266.61,54.6 Z" fill="#c02327" stroke="#5a1010" stroke-width="0.35" stroke-linejoin="round"/>
<path d="M275.1,54.3 L266.61,54.6 A8.5,8.5 0 0 0 266.82,56.21 Z" fill="#c02327" stroke="#5a1010" stroke-width="0.35" stroke-linejoin="round"/>
<path d="M275.1,54.3 L266.82,56.21 A8.5,8.5 0 0 0 267.33,57.76 Z" fill="#c02327" stroke="#5a1010" stroke-width="0.35" stroke-linejoin="round"/>
<path d="M275.1,54.3 L267.33,57.76 A8.5,8.5 0 0 0 268.14,59.18 Z" fill="#c02327" stroke="#5a1010" stroke-width="0.35" stroke-linejoin="round"/>
<path d="M275.1,54.3 L268.96,58.6 A7.5,7.5 0 0 0 269.76,59.57 Z" fill="#c02327" stroke="#5a1010" stroke-width="0.35" stroke-linejoin="round"/>
<path d="M275.1,54.3 L269.76,59.57 A7.5,7.5 0 0 0 270.72,60.39 Z" fill="#c02327" stroke="#5a1010" stroke-width="0.35" stroke-linejoin="round"/>
<path d="M275.1,54.3 L257.89,78.26 A29.5,29.5 0 0 0 266.33,82.47 Z" fill="#c02327" stroke="#5a1010" stroke-width="0.35" stroke-linejoin="round"/>
<path d="M275.1,54.3 L272.72,61.94 A8,8 0 0 0 274.34,62.26 Z" fill="#c02327" stroke="#5a1010" stroke-width="0.35" stroke-linejoin="round"/>
<path d="M275.1,54.3 L274.34,62.26 A8,8 0 0 0 275.98,62.25 Z" fill="#c02327" stroke="#5a1010" stroke-width="0.35" stroke-linejoin="round"/>
<path d="M275.1,54.3 L275.98,62.25 A8,8 0 0 0 277.6,61.9 Z" fill="#c02327" stroke="#5a1010" stroke-width="0.35" stroke-linejoin="round"/>
<path d="M275.1,54.3 L277.6,61.9 A8,8 0 0 0 279.1,61.23 Z" fill="#c02327" stroke="#5a1010" stroke-width="0.35" stroke-linejoin="round"/>
<path d="M275.1,54.3 L279.35,61.66 A8.5,8.5 0 0 0 281,60.41 Z" fill="#c02327" stroke="#5a1010" stroke-width="0.35" stroke-linejoin="round"/>
<path d="M275.1,54.3 L287.26,66.89 A17.5,17.5 0 0 0 289.49,64.26 Z" fill="#c02327" stroke="#5a1010" stroke-width="0.35" stroke-linejoin="round"/>
<circle cx="275.1" cy="54.3" r="1.3" fill="#111"/>
<text x="239.3" y="57.9" font-size="13" text-anchor="start" font-weight="normal" fill="#000" font-family='"Liberation Serif", serif' >π</text>
<text x="304.7" y="58.9" font-size="13" text-anchor="start" font-weight="normal" fill="#000" font-family='"Liberation Sans", sans-serif' >0</text>
<line x1="235.8" y1="21.05" x2="431.2" y2="21.05" stroke="#000" stroke-opacity="0.3" stroke-width="1.7"/>
<path d="M236.3,20.6 L236.3,175.3 L430.7,175.3 L430.7,20.6" fill="none" stroke="#555" stroke-width="1"/>
<line x1="236.3" y1="155.96" x2="238.3" y2="155.96" stroke="#555" stroke-width="0.8"/>
<line x1="430.7" y1="155.96" x2="428.7" y2="155.96" stroke="#555" stroke-width="0.8"/>
<line x1="236.3" y1="136.62" x2="238.3" y2="136.62" stroke="#555" stroke-width="0.8"/>
<line x1="430.7" y1="136.62" x2="428.7" y2="136.62" stroke="#555" stroke-width="0.8"/>
<line x1="236.3" y1="117.29" x2="238.3" y2="117.29" stroke="#555" stroke-width="0.8"/>
<line x1="430.7" y1="117.29" x2="428.7" y2="117.29" stroke="#555" stroke-width="0.8"/>
<line x1="236.3" y1="97.95" x2="238.3" y2="97.95" stroke="#555" stroke-width="0.8"/>
<line x1="430.7" y1="97.95" x2="428.7" y2="97.95" stroke="#555" stroke-width="0.8"/>
<line x1="236.3" y1="78.61" x2="238.3" y2="78.61" stroke="#555" stroke-width="0.8"/>
<line x1="430.7" y1="78.61" x2="428.7" y2="78.61" stroke="#555" stroke-width="0.8"/>
<line x1="236.3" y1="59.27" x2="238.3" y2="59.27" stroke="#555" stroke-width="0.8"/>
<line x1="430.7" y1="59.27" x2="428.7" y2="59.27" stroke="#555" stroke-width="0.8"/>
<line x1="236.3" y1="39.94" x2="238.3" y2="39.94" stroke="#555" stroke-width="0.8"/>
<line x1="430.7" y1="39.94" x2="428.7" y2="39.94" stroke="#555" stroke-width="0.8"/>
<line x1="284.9" y1="175.3" x2="284.9" y2="173.3" stroke="#555" stroke-width="0.8"/>
<line x1="333.5" y1="175.3" x2="333.5" y2="173.3" stroke="#555" stroke-width="0.8"/>
<line x1="382.1" y1="175.3" x2="382.1" y2="173.3" stroke="#555" stroke-width="0.8"/>
<text x="232.8" y="179.55" font-size="13" text-anchor="end" font-weight="normal" fill="#000" font-family='"Liberation Sans", sans-serif' >0</text>
<text x="232.8" y="141.75" font-size="13" text-anchor="end" font-weight="normal" fill="#000" font-family='"Liberation Sans", sans-serif' >10</text>
<text x="232.8" y="103.95" font-size="13" text-anchor="end" font-weight="normal" fill="#000" font-family='"Liberation Sans", sans-serif' >20</text>
<text x="232.8" y="66.15" font-size="13" text-anchor="end" font-weight="normal" fill="#000" font-family='"Liberation Sans", sans-serif' >30</text>
<text x="232.8" y="28.35" font-size="13" text-anchor="end" font-weight="normal" fill="#000" font-family='"Liberation Sans", sans-serif' >40</text>
<text x="236.3" y="190.2" font-size="13" text-anchor="middle" font-weight="normal" fill="#000" font-family='"Liberation Sans", sans-serif' >–<tspan font-family='"Liberation Serif", serif' font-size="14.2">π</tspan></text>
<text x="284.9" y="190.2" font-size="13" text-anchor="middle" font-weight="normal" fill="#000" font-family='"Liberation Sans", sans-serif' >–<tspan font-family='"Liberation Serif", serif' font-size="14.2">π</tspan>/2</text>
<text x="333.5" y="190.2" font-size="13" text-anchor="middle" font-weight="normal" fill="#000" font-family='"Liberation Sans", sans-serif' >0</text>
<text x="382.1" y="190.2" font-size="13" text-anchor="middle" font-weight="normal" fill="#000" font-family='"Liberation Sans", sans-serif' >+<tspan font-family='"Liberation Serif", serif' font-size="14.2">π</tspan>/2</text>
<text x="431.9" y="190.2" font-size="13" text-anchor="end" font-weight="normal" fill="#000" font-family='"Liberation Sans", sans-serif' >+<tspan font-family='"Liberation Serif", serif' font-size="14.2">π</tspan></text>
<text transform="translate(208,99.2) rotate(-90)" x="0" y="0" font-size="13" text-anchor="middle" font-family='"Liberation Sans", sans-serif'>Δ Decoding accuracies (%)</text>
<text x="196.7" y="13.7" font-size="18.5" text-anchor="start" font-weight="bold" fill="#000" font-family='"Liberation Sans", sans-serif' >b</text>
<rect x="236.3" y="224.8" width="38.93" height="154" fill="#7c777d"/>
<rect x="275.18" y="224.8" width="38.93" height="154" fill="#e4d1ca"/>
<rect x="314.06" y="224.8" width="38.93" height="154" fill="#f2c2b5"/>
<rect x="352.94" y="224.8" width="38.93" height="154" fill="#e4d1ca"/>
<rect x="391.82" y="224.8" width="38.93" height="154" fill="#7c777d"/>
<path d="M236.3,353.29 L255.74,330.68 L275.18,316.24 L294.62,296.99 L314.06,267.15 L333.5,243.47 L352.94,260.41 L372.38,278.7 L391.82,297.37 L411.26,327.79 L430.7,344.15 L430.7,355.7 L411.26,339.34 L391.82,315.28 L372.38,297.95 L352.94,288.32 L333.5,270.42 L314.06,296.03 L294.62,316.24 L275.18,331.64 L255.74,344.15 L236.3,365.81Z" fill="#eeeced"/>
<path d="M236.3,353.29 L255.74,330.68 L275.18,316.24 L294.62,296.99 L314.06,267.15 L333.5,243.47 L352.94,260.41 L372.38,278.7 L391.82,297.37 L411.26,327.79 L430.7,344.15" fill="none" stroke="#5a5050" stroke-width="0.8" stroke-dasharray="2,1.5"/>
<path d="M236.3,365.81 L255.74,344.15 L275.18,331.64 L294.62,316.24 L314.06,296.03 L333.5,270.42 L352.94,288.32 L372.38,297.95 L391.82,315.28 L411.26,339.34 L430.7,355.7" fill="none" stroke="#5a5050" stroke-width="0.8" stroke-dasharray="2,1.5"/>
<path d="M236.3,360.03 L255.74,337.8 L275.18,324.61 L294.62,306.32 L314.06,282.55 L333.5,257.04 L352.94,272.93 L372.38,289.29 L391.82,307 L411.26,333.56 L430.7,349.93" fill="none" stroke="#000" stroke-width="2.2" stroke-linejoin="miter"/>
<circle cx="275.2" cy="257.9" r="9.07" fill="none" stroke="#3a3030" stroke-width="0.7" stroke-dasharray="1.8,1.5"/>
<circle cx="275.2" cy="257.9" r="18.13" fill="none" stroke="#3a3030" stroke-width="0.7" stroke-dasharray="1.8,1.5"/>
<line x1="248" y1="257.9" x2="302.4" y2="257.9" stroke="#3a3030" stroke-width="0.7" stroke-dasharray="1.8,1.5"/>
<line x1="251.64" y1="271.5" x2="298.76" y2="244.3" stroke="#3a3030" stroke-width="0.7" stroke-dasharray="1.8,1.5"/>
<line x1="261.6" y1="281.46" x2="288.8" y2="234.34" stroke="#3a3030" stroke-width="0.7" stroke-dasharray="1.8,1.5"/>
<line x1="275.2" y1="285.1" x2="275.2" y2="230.7" stroke="#3a3030" stroke-width="0.7" stroke-dasharray="1.8,1.5"/>
<line x1="288.8" y1="281.46" x2="261.6" y2="234.34" stroke="#3a3030" stroke-width="0.7" stroke-dasharray="1.8,1.5"/>
<line x1="298.76" y1="271.5" x2="251.64" y2="244.3" stroke="#3a3030" stroke-width="0.7" stroke-dasharray="1.8,1.5"/>
<circle cx="275.2" cy="257.9" r="27.2" fill="none" stroke="#222" stroke-width="0.8"/>
<path d="M275.2,257.9 L293.3,261.75 A18.5,18.5 0 0 0 293.7,257.9 Z" fill="#c02327" stroke="#5a1010" stroke-width="0.35" stroke-linejoin="round"/>
<path d="M275.2,257.9 L283.7,257.9 A8.5,8.5 0 0 0 283.51,256.13 Z" fill="#c02327" stroke="#5a1010" stroke-width="0.35" stroke-linejoin="round"/>
<path d="M275.2,257.9 L283.51,256.13 A8.5,8.5 0 0 0 282.97,254.44 Z" fill="#c02327" stroke="#5a1010" stroke-width="0.35" stroke-linejoin="round"/>
<path d="M275.2,257.9 L282.97,254.44 A8.5,8.5 0 0 0 282.08,252.9 Z" fill="#c02327" stroke="#5a1010" stroke-width="0.35" stroke-linejoin="round"/>
<path d="M275.2,257.9 L282.08,252.9 A8.5,8.5 0 0 0 280.89,251.58 Z" fill="#c02327" stroke="#5a1010" stroke-width="0.35" stroke-linejoin="round"/>
<path d="M275.2,257.9 L280.89,251.58 A8.5,8.5 0 0 0 279.45,250.54 Z" fill="#c02327" stroke="#5a1010" stroke-width="0.35" stroke-linejoin="round"/>
<path d="M275.2,257.9 L279.45,250.54 A8.5,8.5 0 0 0 277.83,249.82 Z" fill="#c02327" stroke="#5a1010" stroke-width="0.35" stroke-linejoin="round"/>
<path d="M275.2,257.9 L277.54,249.73 A8.5,8.5 0 0 0 275.64,249.41 Z" fill="#c02327" stroke="#5a1010" stroke-width="0.35" stroke-linejoin="round"/>
<path d="M275.2,257.9 L273.94,239.94 A18,18 0 0 0 269.94,240.69 Z" fill="#c02327" stroke="#5a1010" stroke-width="0.35" stroke-linejoin="round"/>
<path d="M275.2,257.9 L274.32,255.03 A3,3 0 0 0 273.77,255.26 Z" fill="#c02327" stroke="#5a1010" stroke-width="0.35" stroke-linejoin="round"/>
<path d="M275.2,257.9 L273.77,255.26 A3,3 0 0 0 273.27,255.6 Z" fill="#c02327" stroke="#5a1010" stroke-width="0.35" stroke-linejoin="round"/>
<path d="M275.2,257.9 L269.29,250.85 A9.2,9.2 0 0 0 267.76,252.49 Z" fill="#c02327" stroke="#5a1010" stroke-width="0.35" stroke-linejoin="round"/>
<path d="M275.2,257.9 L271.96,255.55 A4,4 0 0 0 271.64,256.08 Z" fill="#c02327" stroke="#5a1010" stroke-width="0.35" stroke-linejoin="round"/>
<path d="M275.2,257.9 L271.64,256.08 A4,4 0 0 0 271.4,256.66 Z" fill="#c02327" stroke="#5a1010" stroke-width="0.35" stroke-linejoin="round"/>
<path d="M275.2,257.9 L267.02,255.24 A8.6,8.6 0 0 0 266.71,256.55 Z" fill="#c02327" stroke="#5a1010" stroke-width="0.35" stroke-linejoin="round"/>
<path d="M275.2,257.9 L266.71,256.55 A8.6,8.6 0 0 0 266.6,257.9 Z" fill="#c02327" stroke="#5a1010" stroke-width="0.35" stroke-linejoin="round"/>
<path d="M275.2,257.9 L269.2,257.9 A6,6 0 0 0 269.29,258.94 Z" fill="#c02327" stroke="#5a1010" stroke-width="0.35" stroke-linejoin="round"/>
<path d="M275.2,257.9 L269.29,258.94 A6,6 0 0 0 269.56,259.95 Z" fill="#c02327" stroke="#5a1010" stroke-width="0.35" stroke-linejoin="round"/>
<path d="M275.2,257.9 L270.5,259.61 A5,5 0 0 0 270.84,260.35 Z" fill="#c02327" stroke="#5a1010" stroke-width="0.35" stroke-linejoin="round"/>
<path d="M275.2,257.9 L270.84,260.35 A5,5 0 0 0 271.3,261.02 Z" fill="#c02327" stroke="#5a1010" stroke-width="0.35" stroke-linejoin="round"/>
<path d="M275.2,257.9 L271.3,261.02 A5,5 0 0 0 271.85,261.62 Z" fill="#c02327" stroke="#5a1010" stroke-width="0.35" stroke-linejoin="round"/>
<path d="M275.2,257.9 L259.43,280.43 A27.5,27.5 0 0 0 267.16,284.2 Z" fill="#c02327" stroke="#5a1010" stroke-width="0.35" stroke-linejoin="round"/>
<path d="M275.2,257.9 L269.82,275.5 A18.4,18.4 0 0 0 275.2,276.3 Z" fill="#c02327" stroke="#5a1010" stroke-width="0.35" stroke-linejoin="round"/>
<path d="M275.2,257.9 L275.2,276.5 A18.6,18.6 0 0 0 280.95,275.59 Z" fill="#c02327" stroke="#5a1010" stroke-width="0.35" stroke-linejoin="round"/>
<path d="M275.2,257.9 L276.75,262.66 A5,5 0 0 0 277.62,262.27 Z" fill="#c02327" stroke="#5a1010" stroke-width="0.35" stroke-linejoin="round"/>
<path d="M275.2,257.9 L277.62,262.27 A5,5 0 0 0 278.41,261.73 Z" fill="#c02327" stroke="#5a1010" stroke-width="0.35" stroke-linejoin="round"/>
<path d="M275.2,257.9 L280.34,264.03 A8,8 0 0 0 281.56,262.75 Z" fill="#c02327" stroke="#5a1010" stroke-width="0.35" stroke-linejoin="round"/>
<path d="M275.2,257.9 L281.56,262.75 A8,8 0 0 0 282.47,261.24 Z" fill="#c02327" stroke="#5a1010" stroke-width="0.35" stroke-linejoin="round"/>
<path d="M275.2,257.9 L282.47,261.24 A8,8 0 0 0 283.03,259.56 Z" fill="#c02327" stroke="#5a1010" stroke-width="0.35" stroke-linejoin="round"/>
<circle cx="275.2" cy="257.9" r="1.3" fill="#111"/>
<text x="239.4" y="261.5" font-size="13" text-anchor="start" font-weight="normal" fill="#000" font-family='"Liberation Serif", serif' >π</text>
<text x="304.8" y="262.5" font-size="13" text-anchor="start" font-weight="normal" fill="#000" font-family='"Liberation Sans", sans-serif' >0</text>
<line x1="235.8" y1="225.25" x2="431.2" y2="225.25" stroke="#000" stroke-opacity="0.3" stroke-width="1.7"/>
<path d="M236.3,224.8 L236.3,378.8 L430.7,378.8 L430.7,224.8" fill="none" stroke="#555" stroke-width="1"/>
<line x1="236.3" y1="359.55" x2="238.3" y2="359.55" stroke="#555" stroke-width="0.8"/>
<line x1="430.7" y1="359.55" x2="428.7" y2="359.55" stroke="#555" stroke-width="0.8"/>
<line x1="236.3" y1="340.3" x2="238.3" y2="340.3" stroke="#555" stroke-width="0.8"/>
<line x1="430.7" y1="340.3" x2="428.7" y2="340.3" stroke="#555" stroke-width="0.8"/>
<line x1="236.3" y1="321.05" x2="238.3" y2="321.05" stroke="#555" stroke-width="0.8"/>
<line x1="430.7" y1="321.05" x2="428.7" y2="321.05" stroke="#555" stroke-width="0.8"/>
<line x1="236.3" y1="301.8" x2="238.3" y2="301.8" stroke="#555" stroke-width="0.8"/>
<line x1="430.7" y1="301.8" x2="428.7" y2="301.8" stroke="#555" stroke-width="0.8"/>
<line x1="236.3" y1="282.55" x2="238.3" y2="282.55" stroke="#555" stroke-width="0.8"/>
<line x1="430.7" y1="282.55" x2="428.7" y2="282.55" stroke="#555" stroke-width="0.8"/>
<line x1="236.3" y1="263.3" x2="238.3" y2="263.3" stroke="#555" stroke-width="0.8"/>
<line x1="430.7" y1="263.3" x2="428.7" y2="263.3" stroke="#555" stroke-width="0.8"/>
<line x1="236.3" y1="244.05" x2="238.3" y2="244.05" stroke="#555" stroke-width="0.8"/>
<line x1="430.7" y1="244.05" x2="428.7" y2="244.05" stroke="#555" stroke-width="0.8"/>
<line x1="284.9" y1="378.8" x2="284.9" y2="376.8" stroke="#555" stroke-width="0.8"/>
<line x1="333.5" y1="378.8" x2="333.5" y2="376.8" stroke="#555" stroke-width="0.8"/>
<line x1="382.1" y1="378.8" x2="382.1" y2="376.8" stroke="#555" stroke-width="0.8"/>
<text x="230.7" y="383.15" font-size="13" text-anchor="end" font-weight="normal" fill="#000" font-family='"Liberation Sans", sans-serif' >0</text>
<text x="230.7" y="345.11" font-size="13" text-anchor="end" font-weight="normal" fill="#000" font-family='"Liberation Sans", sans-serif' >4</text>
<text x="230.7" y="307.07" font-size="13" text-anchor="end" font-weight="normal" fill="#000" font-family='"Liberation Sans", sans-serif' >8</text>
<text x="230.7" y="269.03" font-size="13" text-anchor="end" font-weight="normal" fill="#000" font-family='"Liberation Sans", sans-serif' >12</text>
<text x="230.7" y="230.99" font-size="13" text-anchor="end" font-weight="normal" fill="#000" font-family='"Liberation Sans", sans-serif' >16</text>
<text x="236.3" y="392.6" font-size="13" text-anchor="middle" font-weight="normal" fill="#000" font-family='"Liberation Sans", sans-serif' >–<tspan font-family='"Liberation Serif", serif' font-size="14.2">π</tspan></text>
<text x="284.9" y="392.6" font-size="13" text-anchor="middle" font-weight="normal" fill="#000" font-family='"Liberation Sans", sans-serif' >–<tspan font-family='"Liberation Serif", serif' font-size="14.2">π</tspan>/2</text>
<text x="333.5" y="392.6" font-size="13" text-anchor="middle" font-weight="normal" fill="#000" font-family='"Liberation Sans", sans-serif' >0</text>
<text x="382.1" y="392.6" font-size="13" text-anchor="middle" font-weight="normal" fill="#000" font-family='"Liberation Sans", sans-serif' >+<tspan font-family='"Liberation Serif", serif' font-size="14.2">π</tspan>/2</text>
<text x="431.9" y="392.6" font-size="13" text-anchor="end" font-weight="normal" fill="#000" font-family='"Liberation Sans", sans-serif' >+<tspan font-family='"Liberation Serif", serif' font-size="14.2">π</tspan></text>
<text transform="translate(208,302.7) rotate(-90)" x="0" y="0" font-size="13" text-anchor="middle" font-family='"Liberation Sans", sans-serif'>Δ FAs (%)</text>
<text x="196.7" y="225.2" font-size="18.5" text-anchor="start" font-weight="bold" fill="#000" font-family='"Liberation Sans", sans-serif' >d</text>
<text x="333.5" y="411.6" font-size="13" text-anchor="middle" font-weight="normal" fill="#000" font-family='"Liberation Sans", sans-serif' >Aligned phase (rad)</text>
<rect x="511.86" y="21.7" width="11.13" height="154.6" fill="#02a3d6"/>
<rect x="651.01" y="21.7" width="11.13" height="154.6" fill="#dc2a1c"/>
<line x1="517.43" y1="39.87" x2="656.57" y2="106.73" stroke="#c8c8c8" stroke-width="0.8"/>
<line x1="517.43" y1="82.57" x2="656.57" y2="166.64" stroke="#c8c8c8" stroke-width="0.8"/>
<line x1="517.43" y1="91.46" x2="656.57" y2="153.11" stroke="#c8c8c8" stroke-width="0.8"/>
<line x1="517.43" y1="93.2" x2="656.57" y2="174.37" stroke="#c8c8c8" stroke-width="0.8"/>
<line x1="517.43" y1="100.35" x2="656.57" y2="172.44" stroke="#c8c8c8" stroke-width="0.8"/>
<line x1="517.43" y1="102.29" x2="656.57" y2="174.75" stroke="#c8c8c8" stroke-width="0.8"/>
<line x1="517.43" y1="103.06" x2="656.57" y2="173.98" stroke="#c8c8c8" stroke-width="0.8"/>
<line x1="517.43" y1="109.44" x2="656.57" y2="175.33" stroke="#c8c8c8" stroke-width="0.8"/>
<line x1="517.43" y1="95.14" x2="656.57" y2="170.5" stroke="#c8c8c8" stroke-width="0.8"/>
<line x1="517.43" y1="50.88" x2="656.57" y2="135.72" stroke="#2a2a2a" stroke-width="0.8"/>
<line x1="517.43" y1="63.44" x2="656.57" y2="110.59" stroke="#2a2a2a" stroke-width="0.8"/>
<line x1="517.43" y1="65.18" x2="656.57" y2="120.64" stroke="#2a2a2a" stroke-width="0.8"/>
<line x1="517.43" y1="87.21" x2="656.57" y2="138.04" stroke="#2a2a2a" stroke-width="0.8"/>
<line x1="517.43" y1="98.03" x2="656.57" y2="140.94" stroke="#2a2a2a" stroke-width="0.8"/>
<line x1="517.43" y1="99" x2="656.57" y2="151.95" stroke="#2a2a2a" stroke-width="0.8"/>
<line x1="517.43" y1="106.73" x2="656.57" y2="157.75" stroke="#2a2a2a" stroke-width="0.8"/>
<line x1="517.43" y1="107.89" x2="656.57" y2="174.75" stroke="#2a2a2a" stroke-width="0.8"/>
<line x1="517.43" y1="118.33" x2="656.57" y2="175.14" stroke="#2a2a2a" stroke-width="0.8"/>
<line x1="517.43" y1="105.76" x2="656.57" y2="174.37" stroke="#2a2a2a" stroke-width="0.8"/>
<line x1="517.43" y1="108.66" x2="656.57" y2="175.33" stroke="#2a2a2a" stroke-width="0.8"/>
<line x1="499.34" y1="97.71" x2="499.34" y2="87.29" stroke="#c8c8c8" stroke-width="0.9"/>
<line x1="497.74" y1="97.71" x2="500.94" y2="97.71" stroke="#c8c8c8" stroke-width="0.9"/>
<line x1="497.74" y1="87.29" x2="500.94" y2="87.29" stroke="#c8c8c8" stroke-width="0.9"/>
<rect x="496.94" y="90.03" width="4.8" height="4.8" fill="#c8c8c8"/>
<line x1="503.79" y1="97.45" x2="503.79" y2="82.38" stroke="#000" stroke-width="0.9"/>
<line x1="502.19" y1="97.45" x2="505.39" y2="97.45" stroke="#000" stroke-width="0.9"/>
<line x1="502.19" y1="82.38" x2="505.39" y2="82.38" stroke="#000" stroke-width="0.9"/>
<rect x="501.39" y="86.94" width="4.8" height="4.8" fill="#000"/>
<line x1="670.49" y1="156.2" x2="670.49" y2="141.9" stroke="#000" stroke-width="0.9"/>
<line x1="668.89" y1="156.2" x2="672.09" y2="156.2" stroke="#000" stroke-width="0.9"/>
<line x1="668.89" y1="141.9" x2="672.09" y2="141.9" stroke="#000" stroke-width="0.9"/>
<rect x="668.09" y="146.07" width="4.8" height="4.8" fill="#000"/>
<line x1="674.66" y1="167.68" x2="674.66" y2="156.2" stroke="#c8c8c8" stroke-width="0.9"/>
<line x1="673.06" y1="167.68" x2="676.26" y2="167.68" stroke="#c8c8c8" stroke-width="0.9"/>
<line x1="673.06" y1="156.2" x2="676.26" y2="156.2" stroke="#c8c8c8" stroke-width="0.9"/>
<rect x="672.26" y="159.6" width="4.8" height="4.8" fill="#c8c8c8"/>
<rect x="489.6" y="21.7" width="194.8" height="154.6" fill="none" stroke="#7a7a7a" stroke-width="1"/>
<line x1="489.6" y1="156.98" x2="491.6" y2="156.98" stroke="#555" stroke-width="0.8"/>
<line x1="684.4" y1="156.98" x2="682.4" y2="156.98" stroke="#555" stroke-width="0.8"/>
<line x1="489.6" y1="137.65" x2="491.6" y2="137.65" stroke="#555" stroke-width="0.8"/>
<line x1="684.4" y1="137.65" x2="682.4" y2="137.65" stroke="#555" stroke-width="0.8"/>
<line x1="489.6" y1="118.33" x2="491.6" y2="118.33" stroke="#555" stroke-width="0.8"/>
<line x1="684.4" y1="118.33" x2="682.4" y2="118.33" stroke="#555" stroke-width="0.8"/>
<line x1="489.6" y1="99" x2="491.6" y2="99" stroke="#555" stroke-width="0.8"/>
<line x1="684.4" y1="99" x2="682.4" y2="99" stroke="#555" stroke-width="0.8"/>
<line x1="489.6" y1="79.67" x2="491.6" y2="79.67" stroke="#555" stroke-width="0.8"/>
<line x1="684.4" y1="79.67" x2="682.4" y2="79.67" stroke="#555" stroke-width="0.8"/>
<line x1="489.6" y1="60.35" x2="491.6" y2="60.35" stroke="#555" stroke-width="0.8"/>
<line x1="684.4" y1="60.35" x2="682.4" y2="60.35" stroke="#555" stroke-width="0.8"/>
<line x1="489.6" y1="41.02" x2="491.6" y2="41.02" stroke="#555" stroke-width="0.8"/>
<line x1="684.4" y1="41.02" x2="682.4" y2="41.02" stroke="#555" stroke-width="0.8"/>
<line x1="517.43" y1="176.3" x2="517.43" y2="174.3" stroke="#333" stroke-width="0.8"/>
<line x1="517.43" y1="21.7" x2="517.43" y2="23.7" stroke="#333" stroke-width="0.8"/>
<line x1="656.57" y1="176.3" x2="656.57" y2="174.3" stroke="#333" stroke-width="0.8"/>
<line x1="656.57" y1="21.7" x2="656.57" y2="23.7" stroke="#333" stroke-width="0.8"/>
<text x="484.4" y="180.9" font-size="13" text-anchor="end" font-weight="normal" fill="#000" font-family='"Liberation Sans", sans-serif' >0</text>
<text x="484.4" y="142.25" font-size="13" text-anchor="end" font-weight="normal" fill="#000" font-family='"Liberation Sans", sans-serif' >20</text>
<text x="484.4" y="103.6" font-size="13" text-anchor="end" font-weight="normal" fill="#000" font-family='"Liberation Sans", sans-serif' >40</text>
<text x="484.4" y="64.95" font-size="13" text-anchor="end" font-weight="normal" fill="#000" font-family='"Liberation Sans", sans-serif' >60</text>
<text x="484.4" y="26.3" font-size="13" text-anchor="end" font-weight="normal" fill="#000" font-family='"Liberation Sans", sans-serif' >80</text>
<text transform="translate(460.4,98.65) rotate(-90)" x="0" y="0" font-size="13" text-anchor="middle" font-family='"Liberation Sans", sans-serif'>Decoding accuracies (%)</text>
<text x="449.7" y="13.7" font-size="18.5" text-anchor="start" font-weight="bold" fill="#000" font-family='"Liberation Sans", sans-serif' >c</text>
<rect x="511.85" y="224.3" width="11.07" height="154.9" fill="#02a3d6"/>
<rect x="650.28" y="224.3" width="11.07" height="154.9" fill="#dc2a1c"/>
<line x1="517.39" y1="242.45" x2="655.81" y2="276.08" stroke="#c8c8c8" stroke-width="0.8"/>
<line x1="517.39" y1="245.99" x2="655.81" y2="284.05" stroke="#2a2a2a" stroke-width="0.8"/>
<line x1="517.39" y1="251.74" x2="655.81" y2="288.92" stroke="#2a2a2a" stroke-width="0.8"/>
<line x1="517.39" y1="259.26" x2="655.81" y2="295.11" stroke="#2a2a2a" stroke-width="0.8"/>
<line x1="517.39" y1="260.59" x2="655.81" y2="298.65" stroke="#2a2a2a" stroke-width="0.8"/>
<line x1="517.39" y1="269.88" x2="655.81" y2="307.5" stroke="#2a2a2a" stroke-width="0.8"/>
<line x1="517.39" y1="273.87" x2="655.81" y2="349.11" stroke="#2a2a2a" stroke-width="0.8"/>
<line x1="517.39" y1="276.97" x2="655.81" y2="315.47" stroke="#2a2a2a" stroke-width="0.8"/>
<line x1="517.39" y1="279.62" x2="655.81" y2="317.24" stroke="#2a2a2a" stroke-width="0.8"/>
<line x1="517.39" y1="283.6" x2="655.81" y2="325.65" stroke="#2a2a2a" stroke-width="0.8"/>
<line x1="517.39" y1="285.37" x2="655.81" y2="326.98" stroke="#2a2a2a" stroke-width="0.8"/>
<line x1="517.39" y1="266.34" x2="655.81" y2="303.96" stroke="#c8c8c8" stroke-width="0.8"/>
<line x1="517.39" y1="295.55" x2="655.81" y2="352.65" stroke="#c8c8c8" stroke-width="0.8"/>
<line x1="517.39" y1="304.85" x2="655.81" y2="354.86" stroke="#c8c8c8" stroke-width="0.8"/>
<line x1="517.39" y1="340.25" x2="655.81" y2="367.25" stroke="#c8c8c8" stroke-width="0.8"/>
<line x1="517.39" y1="281.83" x2="655.81" y2="334.94" stroke="#c8c8c8" stroke-width="0.8"/>
<line x1="517.39" y1="290.69" x2="655.81" y2="343.79" stroke="#c8c8c8" stroke-width="0.8"/>
<line x1="498.14" y1="272.58" x2="498.14" y2="264.31" stroke="#000" stroke-width="0.9"/>
<line x1="496.54" y1="272.58" x2="499.74" y2="272.58" stroke="#000" stroke-width="0.9"/>
<line x1="496.54" y1="264.31" x2="499.74" y2="264.31" stroke="#000" stroke-width="0.9"/>
<rect x="495.74" y="266.16" width="4.8" height="4.8" fill="#000"/>
<line x1="503.4" y1="293.47" x2="503.4" y2="280.95" stroke="#c8c8c8" stroke-width="0.9"/>
<line x1="501.8" y1="293.47" x2="505" y2="293.47" stroke="#c8c8c8" stroke-width="0.9"/>
<line x1="501.8" y1="280.95" x2="505" y2="280.95" stroke="#c8c8c8" stroke-width="0.9"/>
<rect x="501" y="285.01" width="4.8" height="4.8" fill="#c8c8c8"/>
<line x1="674.64" y1="317.86" x2="674.64" y2="305.07" stroke="#000" stroke-width="0.9"/>
<line x1="673.04" y1="317.86" x2="676.24" y2="317.86" stroke="#000" stroke-width="0.9"/>
<line x1="673.04" y1="305.07" x2="676.24" y2="305.07" stroke="#000" stroke-width="0.9"/>
<rect x="672.24" y="309.09" width="4.8" height="4.8" fill="#000"/>
<line x1="670.49" y1="343.93" x2="670.49" y2="331.36" stroke="#c8c8c8" stroke-width="0.9"/>
<line x1="668.89" y1="343.93" x2="672.09" y2="343.93" stroke="#c8c8c8" stroke-width="0.9"/>
<line x1="668.89" y1="331.36" x2="672.09" y2="331.36" stroke="#c8c8c8" stroke-width="0.9"/>
<rect x="668.09" y="335.15" width="4.8" height="4.8" fill="#c8c8c8"/>
<rect x="489.7" y="224.3" width="193.8" height="154.9" fill="none" stroke="#7a7a7a" stroke-width="1"/>
<line x1="489.7" y1="357.07" x2="491.7" y2="357.07" stroke="#555" stroke-width="0.8"/>
<line x1="683.5" y1="357.07" x2="681.5" y2="357.07" stroke="#555" stroke-width="0.8"/>
<line x1="489.7" y1="334.94" x2="491.7" y2="334.94" stroke="#555" stroke-width="0.8"/>
<line x1="683.5" y1="334.94" x2="681.5" y2="334.94" stroke="#555" stroke-width="0.8"/>
<line x1="489.7" y1="312.81" x2="491.7" y2="312.81" stroke="#555" stroke-width="0.8"/>
<line x1="683.5" y1="312.81" x2="681.5" y2="312.81" stroke="#555" stroke-width="0.8"/>
<line x1="489.7" y1="290.69" x2="491.7" y2="290.69" stroke="#555" stroke-width="0.8"/>
<line x1="683.5" y1="290.69" x2="681.5" y2="290.69" stroke="#555" stroke-width="0.8"/>
<line x1="489.7" y1="268.56" x2="491.7" y2="268.56" stroke="#555" stroke-width="0.8"/>
<line x1="683.5" y1="268.56" x2="681.5" y2="268.56" stroke="#555" stroke-width="0.8"/>
<line x1="489.7" y1="246.43" x2="491.7" y2="246.43" stroke="#555" stroke-width="0.8"/>
<line x1="683.5" y1="246.43" x2="681.5" y2="246.43" stroke="#555" stroke-width="0.8"/>
<line x1="517.39" y1="379.2" x2="517.39" y2="377.2" stroke="#333" stroke-width="0.8"/>
<line x1="517.39" y1="224.3" x2="517.39" y2="226.3" stroke="#333" stroke-width="0.8"/>
<line x1="655.81" y1="379.2" x2="655.81" y2="377.2" stroke="#333" stroke-width="0.8"/>
<line x1="655.81" y1="224.3" x2="655.81" y2="226.3" stroke="#333" stroke-width="0.8"/>
<text x="484.5" y="383.8" font-size="13" text-anchor="end" font-weight="normal" fill="#000" font-family='"Liberation Sans", sans-serif' >20</text>
<text x="484.5" y="339.54" font-size="13" text-anchor="end" font-weight="normal" fill="#000" font-family='"Liberation Sans", sans-serif' >30</text>
<text x="484.5" y="295.29" font-size="13" text-anchor="end" font-weight="normal" fill="#000" font-family='"Liberation Sans", sans-serif' >40</text>
<text x="484.5" y="251.03" font-size="13" text-anchor="end" font-weight="normal" fill="#000" font-family='"Liberation Sans", sans-serif' >50</text>
<text transform="translate(460.4,300.7) rotate(-90)" x="0" y="0" font-size="13" text-anchor="middle" font-family='"Liberation Sans", sans-serif'>FAs (%)</text>
<text x="449.3" y="225.3" font-size="18.5" text-anchor="start" font-weight="bold" fill="#000" font-family='"Liberation Sans", sans-serif' >e</text>
<text x="517.4" y="394.6" font-size="13" text-anchor="middle" font-weight="normal" fill="#1ba3d6" font-family='"Liberation Sans", sans-serif' >At peak</text>
<text x="655.3" y="394.6" font-size="13" text-anchor="middle" font-weight="normal" fill="#dc2a1c" font-family='"Liberation Sans", sans-serif' >At trough</text>
<path d="M569.1,203.04 L569.65,201.59 L570.2,200.14 L570.75,198.7 L571.31,197.29 L571.86,195.93 L572.41,194.63 L572.96,193.41 L573.51,192.27 L574.07,191.24 L574.62,190.33 L575.17,189.55 L575.72,188.9 L576.27,188.4 L576.82,188.05 L577.38,187.85 L577.93,187.8 L578.48,187.92 L579.03,188.19 L579.58,188.61 L580.13,189.18 L580.69,189.89 L581.24,190.74 L581.79,191.7 L582.34,192.78 L582.89,193.96 L583.44,195.22 L584,196.55 L584.55,197.94 L585.1,199.36 L585.65,200.81 L586.2,202.26 L586.75,203.69 L587.31,205.1 L587.86,206.47 L588.41,207.77 L588.96,208.99 L589.51,210.12 L590.06,211.15 L590.62,212.06 L591.17,212.85 L591.72,213.5 L592.27,214 L592.82,214.35 L593.37,214.55 L593.93,214.6 L594.48,214.48 L595.03,214.21 L595.58,213.79 L596.13,213.22 L596.68,212.51 L597.24,211.67 L597.79,210.7 L598.34,209.62 L598.89,208.45 L599.44,207.19 L599.99,205.85 L600.55,204.47 L601.1,203.04 L601.65,201.6 L602.2,200.15" fill="none" stroke="#333" stroke-width="1"/>
<circle cx="577.8" cy="187.8" r="2.4" fill="#7fd3ec"/>
<circle cx="593.8" cy="214.6" r="2.4" fill="#e02a1a"/>
</svg></body></html>
